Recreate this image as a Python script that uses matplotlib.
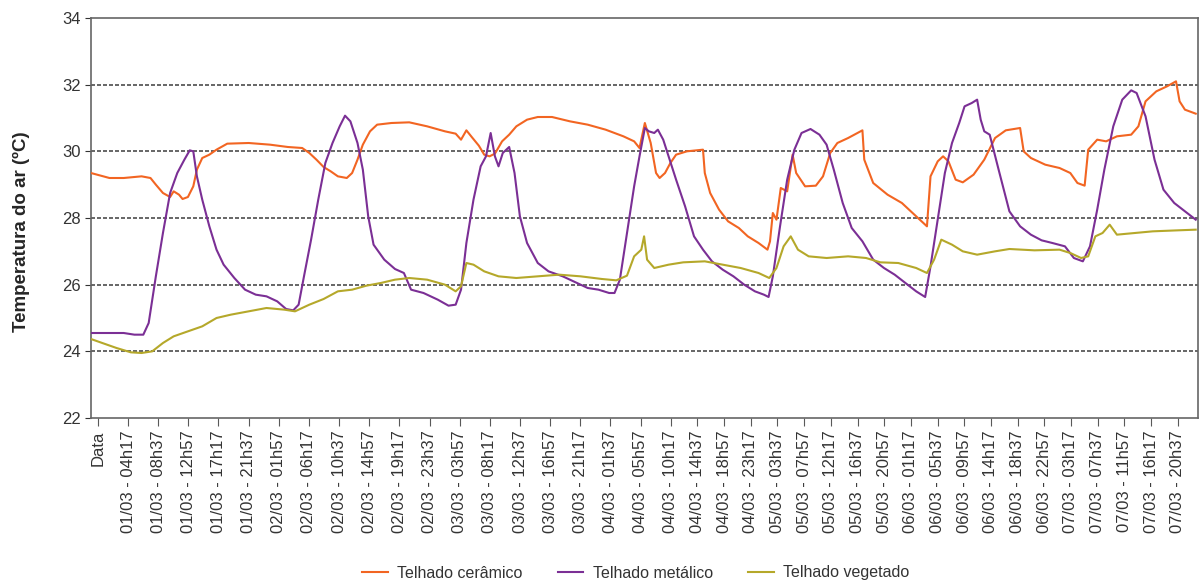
"""Temperatura do ar sob três tipos de telhado (cerâmico, metálico, vegetado).

    python3 plot.py  ->  out.png
"""

import matplotlib

matplotlib.use("Agg")

import matplotlib.pyplot as plt
import numpy as np

plt.rcParams["font.family"] = ["Liberation Sans Narrow", "Liberation Sans", "DejaVu Sans"]

# horas desde o rótulo "Data" (um rótulo a cada 4h20)
t_ceramico = [
    -1.0, 1.66, 3.71, 6.28, 7.56, 8.33, 9.35, 10.38, 10.89, 11.66,
    12.17, 12.94, 13.71, 14.23, 15.0, 16.02, 17.05, 18.59, 21.67, 24.74,
    27.31, 29.36, 30.39, 31.41, 32.44, 33.46, 34.49, 35.77, 36.54, 37.31,
    38.08, 39.11, 40.13, 42.19, 44.75, 47.32, 49.88, 51.42, 52.19, 52.96,
    53.73, 54.75, 55.52, 56.29, 57.06, 58.09, 59.11, 60.14, 61.68, 63.22,
    65.27, 67.84, 70.4, 72.97, 75.53, 77.07, 77.84, 78.61, 79.45, 80.22,
    80.73, 81.51, 82.28, 83.2, 84.95, 87.57, 87.86, 88.73, 90.18, 91.64,
    93.39, 94.84, 96.59, 98.04, 98.45, 98.91, 99.5, 100.2, 101.24, 102.12,
    102.7, 104.15, 105.9, 107.06, 108.23, 109.39, 111.14, 113.46, 113.76, 115.21,
    117.54, 119.87, 121.61, 123.36, 123.94, 124.52, 125.69, 126.56, 127.43, 128.6,
    129.76, 131.51, 133.25, 135.0, 136.74, 139.07, 139.65, 140.82, 143.15, 145.47,
    147.22, 148.38, 149.55, 150.13, 151.59, 153.04, 154.79, 157.11, 158.28, 159.44,
    161.19, 162.93, 164.39, 164.97, 165.84, 167.59,
]
temp_ceramico = [
    29.35, 29.2, 29.2, 29.25, 29.2, 29.0, 28.75, 28.63, 28.8, 28.7,
    28.57, 28.63, 28.95, 29.45, 29.8, 29.9, 30.05, 30.23, 30.25, 30.2,
    30.13, 30.1, 29.95, 29.75, 29.53, 29.4, 29.25, 29.2, 29.35, 29.75,
    30.2, 30.6, 30.8, 30.85, 30.87, 30.75, 30.6, 30.53, 30.35, 30.63,
    30.43, 30.17, 29.9, 29.85, 29.93, 30.3, 30.5, 30.75, 30.95, 31.03,
    31.03, 30.9, 30.8, 30.65, 30.45, 30.3, 30.1, 30.85, 30.25, 29.35,
    29.2, 29.35, 29.65, 29.9, 30.0, 30.05, 29.35, 28.75, 28.25, 27.9,
    27.7, 27.45, 27.25, 27.05, 27.3, 28.15, 27.95, 28.9, 28.8, 29.9,
    29.35, 28.95, 28.97, 29.25, 29.95, 30.25, 30.4, 30.63, 29.75, 29.05,
    28.7, 28.45, 28.15, 27.85, 27.75, 29.25, 29.7, 29.85, 29.7, 29.15,
    29.07, 29.3, 29.75, 30.4, 30.63, 30.7, 30.0, 29.8, 29.6, 29.5,
    29.35, 29.05, 28.97, 30.05, 30.35, 30.3, 30.45, 30.5, 30.75, 31.5,
    31.8, 31.95, 32.1, 31.5, 31.25, 31.13,
]

t_metalico = [
    -1.0, 3.71, 5.25, 6.53, 7.3, 8.33, 9.35, 10.38, 11.41, 12.43,
    13.2, 13.71, 14.23, 15.0, 16.02, 17.05, 18.07, 19.61, 21.15, 22.69,
    24.23, 25.77, 27.05, 28.08, 28.85, 29.62, 30.64, 31.67, 32.69, 33.72,
    34.75, 35.52, 36.29, 37.31, 38.08, 38.85, 39.62, 41.16, 42.7, 43.98,
    45.01, 46.8, 48.85, 50.39, 51.42, 52.19, 52.96, 53.98, 55.01, 55.78,
    56.45, 57.06, 57.58, 58.19, 59.11, 59.88, 60.65, 61.68, 63.22, 64.76,
    66.81, 68.86, 70.4, 71.94, 73.48, 74.25, 75.02, 76.04, 77.07, 77.84,
    78.61, 79.19, 79.96, 80.48, 81.25, 82.02, 83.2, 84.66, 86.11, 87.57,
    89.02, 90.77, 92.51, 94.26, 96.0, 97.46, 98.22, 98.91, 100.08, 101.24,
    102.41, 103.57, 105.03, 106.48, 107.64, 108.81, 110.26, 111.72, 113.46, 115.21,
    116.96, 118.7, 120.45, 122.19, 123.65, 124.52, 125.69, 126.85, 128.01, 129.18,
    130.05, 131.22, 132.09, 132.67, 133.25, 134.13, 135.58, 137.33, 139.07, 140.82,
    142.56, 144.31, 146.35, 147.8, 149.26, 150.42, 151.59, 152.75, 154.2, 155.66,
    157.11, 157.99, 159.44, 160.9, 162.35, 164.1, 165.84, 167.59,
]
temp_metalico = [
    24.55, 24.55, 24.5, 24.5, 24.85, 26.25, 27.55, 28.75, 29.35, 29.75,
    30.03, 30.0, 29.25, 28.55, 27.75, 27.05, 26.6, 26.2, 25.85, 25.7,
    25.65, 25.5, 25.27, 25.23, 25.4, 26.25, 27.35, 28.55, 29.65, 30.25,
    30.75, 31.07, 30.9, 30.25, 29.45, 28.05, 27.2, 26.75, 26.47, 26.35,
    25.85, 25.75, 25.55, 25.37, 25.4, 25.85, 27.25, 28.55, 29.55, 29.85,
    30.55, 29.85, 29.55, 29.95, 30.13, 29.35, 28.05, 27.25, 26.65, 26.4,
    26.25, 26.05, 25.9, 25.85, 25.75, 25.75, 26.15, 27.55, 28.95, 29.85,
    30.7, 30.6, 30.55, 30.65, 30.35, 29.85, 29.15, 28.35, 27.45, 27.05,
    26.7, 26.45, 26.25, 26.0, 25.8, 25.7, 25.63, 26.25, 27.75, 29.15,
    30.05, 30.55, 30.67, 30.5, 30.2, 29.45, 28.45, 27.7, 27.3, 26.75,
    26.5, 26.3, 26.05, 25.8, 25.63, 26.55, 27.95, 29.35, 30.25, 30.85,
    31.35, 31.45, 31.55, 30.95, 30.6, 30.5, 29.45, 28.2, 27.75, 27.5,
    27.33, 27.25, 27.15, 26.8, 26.7, 27.15, 28.25, 29.45, 30.75, 31.55,
    31.83, 31.75, 31.05, 29.75, 28.85, 28.45, 28.2, 27.95,
]

t_vegetado = [
    -1.0, 0.63, 2.68, 4.74, 6.28, 7.81, 9.35, 10.89, 12.94, 15.0,
    17.05, 19.1, 21.67, 24.23, 26.8, 28.33, 30.39, 32.44, 34.49, 36.54,
    38.59, 40.65, 42.7, 44.75, 47.32, 49.88, 51.42, 52.19, 52.96, 53.98,
    55.52, 57.58, 60.14, 63.22, 66.3, 69.37, 72.45, 74.5, 76.04, 77.07,
    78.1, 78.5, 78.93, 79.96, 82.02, 84.36, 87.86, 90.77, 93.68, 96.59,
    98.33, 99.5, 100.66, 101.82, 102.99, 104.73, 107.64, 111.14, 114.05, 116.37,
    119.28, 122.19, 123.94, 125.1, 126.27, 128.01, 129.76, 132.09, 135.0, 137.33,
    141.4, 145.47, 147.22, 148.97, 150.13, 151.29, 152.46, 153.62, 154.79, 157.7,
    160.61, 164.68, 167.59,
]
temp_vegetado = [
    24.37, 24.25, 24.1, 23.97, 23.95, 24.0, 24.25, 24.45, 24.6, 24.75,
    25.0, 25.1, 25.2, 25.3, 25.25, 25.2, 25.4, 25.57, 25.8, 25.85,
    25.97, 26.05, 26.15, 26.2, 26.15, 26.0, 25.8, 25.95, 26.65, 26.6,
    26.4, 26.25, 26.2, 26.25, 26.3, 26.25, 26.17, 26.13, 26.27, 26.85,
    27.05, 27.45, 26.75, 26.5, 26.6, 26.67, 26.7, 26.6, 26.5, 26.35,
    26.2, 26.5, 27.15, 27.45, 27.05, 26.85, 26.8, 26.85, 26.8, 26.67,
    26.65, 26.5, 26.35, 26.75, 27.35, 27.2, 27.0, 26.9, 27.0, 27.07,
    27.03, 27.05, 26.95, 26.8, 26.85, 27.45, 27.55, 27.8, 27.5, 27.55,
    27.6, 27.63, 27.65,
]

tick_labels = [
    "Data",
    "01/03 - 04h17", "01/03 - 08h37", "01/03 - 12h57", "01/03 - 17h17", "01/03 - 21h37",
    "02/03 - 01h57", "02/03 - 06h17", "02/03 - 10h37", "02/03 - 14h57", "02/03 - 19h17",
    "02/03 - 23h37", "03/03 - 03h57", "03/03 - 08h17", "03/03 - 12h37", "03/03 - 16h57",
    "03/03 - 21h17", "04/03 - 01h37", "04/03 - 05h57", "04/03 - 10h17", "04/03 - 14h37",
    "04/03 - 18h57", "04/03 - 23h17", "05/03 - 03h37", "05/03 - 07h57", "05/03 - 12h17",
    "05/03 - 16h37", "05/03 - 20h57", "06/03 - 01h17", "06/03 - 05h37", "06/03 - 09h57",
    "06/03 - 14h17", "06/03 - 18h37", "06/03 - 22h57", "07/03 - 03h17", "07/03 - 07h37",
    "07/03 - 11h57", "07/03 - 16h17", "07/03 - 20h37",
]

series = [
    ("Telhado cerâmico", t_ceramico, temp_ceramico, "#f26522"),
    ("Telhado metálico", t_metalico, temp_metalico, "#7b2f95"),
    ("Telhado vegetado", t_vegetado, temp_vegetado, "#b5a82a"),
]

STEP = 4 + 20 / 60  # horas entre rótulos
# o eixo original não é uniforme: rótulos mais espaçados até o 19º
BREAK_K = 19
GAP_EARLY = 30.16
GAP_LATE = 26.69


def fwd(h):
    k = np.asarray(h, dtype=float) / STEP
    return np.where(k <= BREAK_K, k * GAP_EARLY,
                    BREAK_K * GAP_EARLY + (k - BREAK_K) * GAP_LATE)


def inv(u):
    u = np.asarray(u, dtype=float)
    ub = BREAK_K * GAP_EARLY
    k = np.where(u <= ub, u / GAP_EARLY, BREAK_K + (u - ub) / GAP_LATE)
    return k * STEP


fig = plt.figure(figsize=(12.02, 5.8), dpi=100, facecolor="white")
ax = fig.add_axes([91 / 1202, 1 - 418 / 580, (1198 - 91) / 1202, 400 / 580])
ax.set_xscale("function", functions=(fwd, inv))

for label, t, temp, color in series:
    ax.plot(t, temp, color=color, lw=1.5, label=label, zorder=3)

ax.set_ylim(22, 34)
ax.set_yticks(range(22, 35, 2))
ax.set_xlim(-0.99, 167.96)
ax.set_xticks([i * STEP for i in range(len(tick_labels))])
ax.set_xticklabels(tick_labels, rotation=90, fontsize=12, color="0.2")
ax.xaxis.set_minor_locator(matplotlib.ticker.NullLocator())
ax.tick_params(axis="y", labelsize=12, colors="0.2", length=4)
ax.tick_params(axis="x", length=6, pad=3, colors="0.35", labelcolor="0.2")

for y in range(24, 34, 2):
    ax.axhline(y, color="0.3", lw=1.2, ls=(0, (2.4, 1.2)), zorder=1)
for side in ax.spines.values():
    side.set_color("0.4")
    side.set_linewidth(1.2)

ax.set_ylabel("Temperatura do ar (ºC)", fontsize=13.5, fontweight="bold", color="0.15")
ax.yaxis.set_label_coords(-0.055, 0.465)

fig.legend(loc="center", bbox_to_anchor=(0.529, 1 - 573 / 580), ncol=3, frameon=False,
           fontsize=11.5, handlelength=1.6, handletextpad=0.6, columnspacing=2.2,
           labelcolor="0.2")

fig.savefig("out.png", dpi=100, facecolor="white")
